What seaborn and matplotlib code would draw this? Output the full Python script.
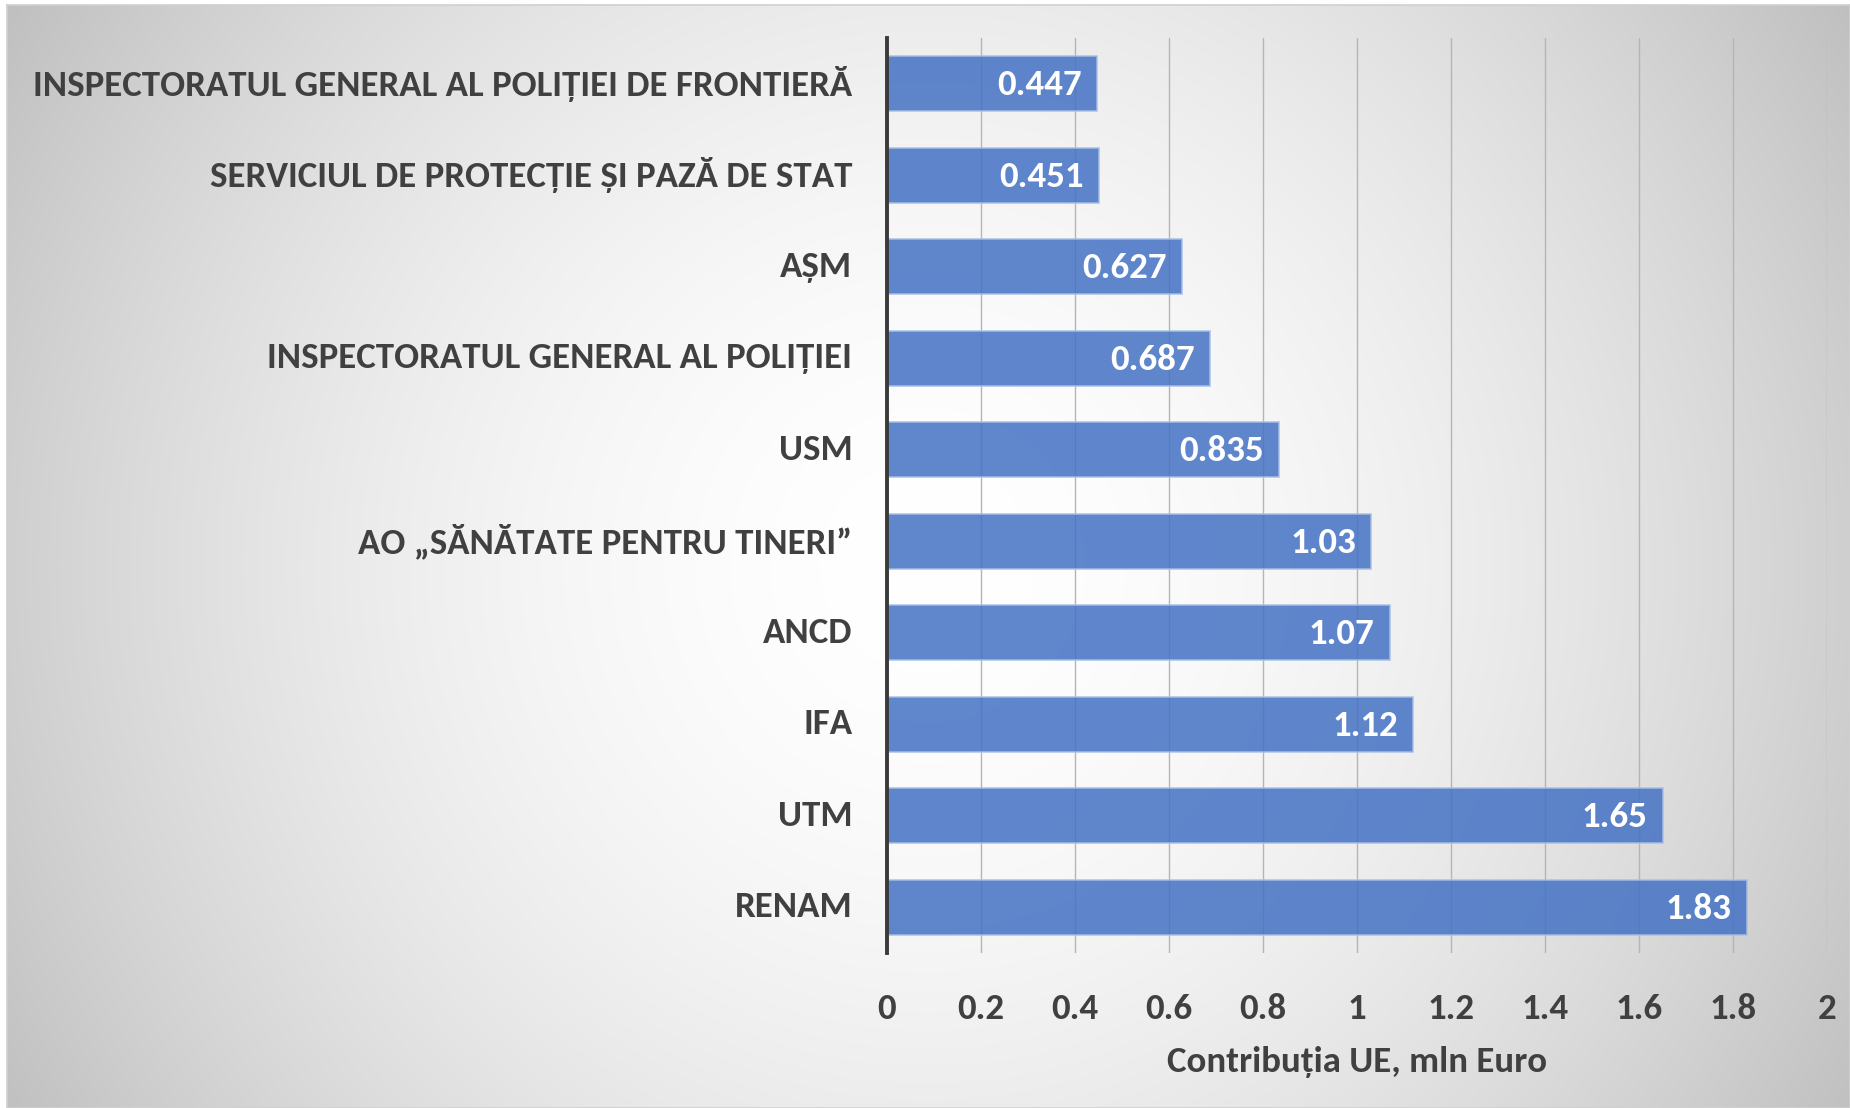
import numpy as np
import pandas as pd
import matplotlib
matplotlib.use("Agg")
import matplotlib.pyplot as plt
import matplotlib.transforms as mtransforms
import seaborn as sns

# data
categories = [
    "INSPECTORATUL GENERAL AL POLIȚIEI DE FRONTIERĂ",
    "SERVICIUL DE PROTECȚIE ȘI PAZĂ DE STAT",
    "AȘM",
    "INSPECTORATUL GENERAL AL POLIȚIEI",
    "USM",
    "AO „SĂNĂTATE PENTRU TINERI”",
    "ANCD",
    "IFA",
    "UTM",
    "RENAM",
]
values = [0.447, 0.451, 0.627, 0.687, 0.835, 1.03, 1.07, 1.12, 1.65, 1.83]
x_ticks = [0, 0.2, 0.4, 0.6, 0.8, 1, 1.2, 1.4, 1.6, 1.8, 2]
x_label = "Contribuția UE, mln Euro"

sns.set_theme(style="white")
plt.rcParams["font.family"] = ["Carlito", "PT Sans Narrow", "Roboto Condensed", "DejaVu Sans"]
plt.rcParams["font.weight"] = "bold"

FS = 26.6
TXT = "#404040"

W, H = 1850, 1108
fig = plt.figure(figsize=(W / 100, H / 100), dpi=100)
fig.patch.set_facecolor("white")

# radial gradient background (white centre, grey edges)
bg = fig.add_axes([7 / W, 0, 1 - 7 / W, 1 - 5 / H], zorder=-5)
bw, bh = 1843, 1103
xx, yy = np.meshgrid(np.arange(bw), np.arange(bh))
d = np.hypot(xx - 920, yy - 560) / 1072
g = 1 - (63 / 255) * np.clip(d, 0, 1.2) ** 1.8
img = np.dstack([g, g, g])
bg.imshow(img, aspect="auto", extent=[0, 1, 0, 1])
bg.set_xticks([])
bg.set_yticks([])
for s in bg.spines.values():
    s.set_color("#d0d0d0")
    s.set_linewidth(1.2)

ax = fig.add_axes([887 / W, 1 - 953 / H, (1827 - 887) / W, (953 - 38) / H])
ax.patch.set_alpha(0)

df = pd.DataFrame({"org": categories, "val": values})
sns.barplot(data=df, x="val", y="org", orient="h", color="#4472C4", alpha=0.85,
            width=0.6, edgecolor="#a8bfe6", linewidth=1.2, saturation=1, ax=ax, zorder=3)

ax.set_xlim(0, 2)
ax.set_ylim(9.5, -0.5)
ax.set_xticks(x_ticks)
ax.set_xticklabels([f"{t:g}" for t in x_ticks])
ax.grid(axis="x", color="#b5b5b5", linewidth=1, zorder=0)
ax.grid(axis="y", visible=False)
ax.set_axisbelow(True)

for side in ["top", "right", "bottom"]:
    ax.spines[side].set_visible(False)
ax.spines["left"].set_color("#3a3a3a")
ax.spines["left"].set_linewidth(2.8)
ax.spines["left"].set_zorder(5)

ax.tick_params(axis="y", length=0, pad=25, labelsize=FS, labelcolor=TXT)
ax.tick_params(axis="x", length=0, pad=29, labelsize=FS, labelcolor=TXT)
ax.set_ylabel("")
ax.set_xlabel(x_label, fontsize=FS, color=TXT, fontweight="bold", labelpad=15)

# nudge category labels up a little
shift = mtransforms.ScaledTranslation(0, 3 / 100, fig.dpi_scale_trans)
for lab in ax.get_yticklabels():
    lab.set_transform(lab.get_transform() + shift)

# value labels inside the bar ends
for i, v in enumerate(values):
    ax.annotate(f"{v:g}", xy=(v, i), xytext=(-11, -1), textcoords="offset points",
                ha="right", va="center", color="white", fontsize=FS, fontweight="bold", zorder=6)

fig.savefig("out.png", dpi=100)
